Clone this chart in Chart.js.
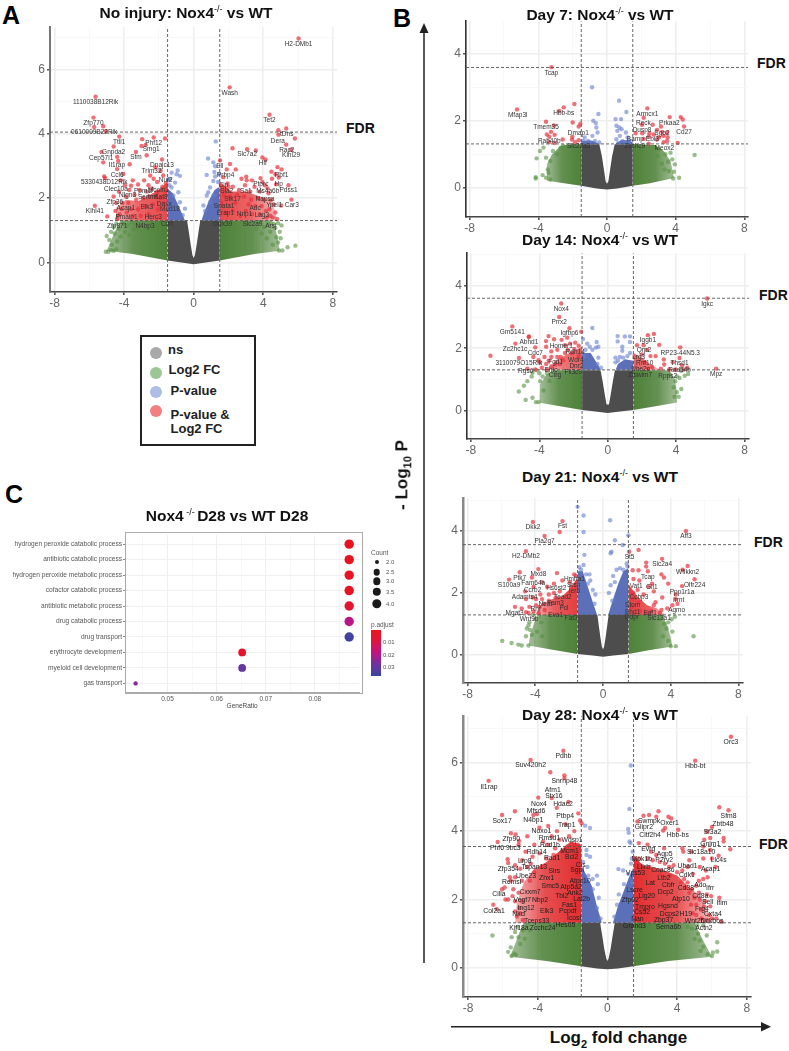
<!DOCTYPE html>
<html>
<head>
<meta charset="utf-8">
<script src="https://cdn.jsdelivr.net/npm/chart.js@4/dist/chart.umd.min.js"></script>
<style>
html,body{margin:0;padding:0;background:#fff;}
body{position:relative;width:789px;height:1051px;overflow:hidden;font-family:"Liberation Sans",Arial,sans-serif;}
canvas{position:absolute;filter:blur(0.35px);}
.t{position:absolute;white-space:nowrap;color:#111;}
.title{font-weight:bold;font-size:15.5px;transform:translate(-50%,-50%);}
.title sup{font-size:9px;font-weight:normal;line-height:0;vertical-align:6px;}
.fdr{font-weight:bold;font-size:14px;transform:translateY(-50%);}
.letter{font-weight:bold;font-size:25px;transform:translateY(-50%);color:#000;}
.leg{font-weight:bold;font-size:13px;color:#222;transform:translateY(-50%);}
.dot{position:absolute;border-radius:50%;transform:translate(-50%,-50%);}
.small{font-size:6px;color:#555;transform:translateY(-50%);}
</style>
</head>
<body>
<svg width="789" height="1051" style="position:absolute;left:0;top:0">
<line x1="424" y1="963" x2="424" y2="32" stroke="#222" stroke-width="1.5"/>
<polygon points="424,23 419.5,33 428.5,33" fill="#222"/>
<line x1="451" y1="1026.7" x2="762" y2="1026.7" stroke="#222" stroke-width="1.5"/>
<polygon points="771,1026.7 761,1022 761,1031.4" fill="#222"/>
</svg>
<script>
const xTickVals = [-8,-4,0,4,8];

// ---- No injury
const redA = [6.03,6.96,2.07,5.44,-5.64,5.15,-5.76,4.5,-5.72,4.21,-5.2,4.23,-5.05,4.08,4.36,4.59,5.32,4.16,4.87,4.11,4.87,3.97,5.82,3.85,5.32,3.66,5.6,3.5,-4.28,3.91,-2.96,3.83,-2.3,3.88,-1.65,3.85,-3.0,3.62,-2.76,3.65,-4.6,3.6,-5.3,3.43,-3.32,3.43,-2.7,3.33,-4.4,3.28,-5.2,3.11,-4.34,3.15,-3.68,3.05,-1.82,3.2,2.23,3.55,3.07,3.52,3.57,3.48,3.95,3.26,4.13,3.2,1.52,3.17,2.09,3.06,2.42,2.89,1.9,2.89,4.82,2.96,5.05,2.89,4.47,2.82,4.7,2.74,4.89,2.64,3.84,2.62,3.02,2.66,3.05,2.55,5.45,2.4,4.74,2.43,5.62,1.95,5.03,1.77,-5.68,1.76,-4.97,1.43,-5.14,2.67,-5.1,2.62,-4.4,2.9,-4.2,2.55,-3.95,2.4,-3.6,2.38,-3.2,2.42,-2.85,2.55,-2.5,2.7,-2.3,2.6,-2.1,2.5,-1.9,2.85,-1.75,2.7,-2.2,2.95,-4.6,2.05,-4.45,1.85,-4.3,2.2,-4.15,1.65,-4.35,1.45,-4.4,1.35,-3.9,2.05,-3.7,2.25,-3.4,2.1,-3.1,2.25,-2.7,2.2,-2.4,2.3,-2.1,2.2,-1.8,2.35,-1.6,2.2,-3.75,1.85,-3.3,1.95,-2.9,2.0,-2.55,2.05,-2.2,2.05,-1.9,2.0,1.7,2.65,1.95,2.45,2.25,2.35,2.6,2.25,2.95,2.4,3.25,2.2,3.5,2.35,3.8,2.2,4.1,2.4,4.3,2.15,1.75,2.1,2.1,2.05,2.5,2.1,2.9,2.05,3.3,1.95,3.7,2.0,4.05,1.95,4.45,1.95,4.6,1.8,1.6,1.85,2.4,1.85,3.15,1.8,3.9,1.75,4.35,1.65,4.7,1.55,4.55,1.4,4.8,1.35,4.2,1.4,-4.5,1.6,-4.25,1.5,-4.1,1.85,-3.85,1.55,-3.6,1.65,-3.5,1.45,-3.2,1.65,-3.05,1.45,-2.8,1.75,-2.6,1.5,-2.35,1.8,-2.05,1.65,-1.75,1.85,-1.6,2.45,-2.6,2.4,-3.5,2.55,-4.05,2.75,3.0,1.6,3.35,1.5,3.55,1.75,3.8,1.5,4.15,1.6,4.4,1.45,2.7,1.45,2.25,1.6,1.85,1.55,2.0,2.35,2.75,2.6,3.35,2.55,3.95,2.5,4.25,2.3,4.5,2.6];
const blueA = [1.27,3.76,0.83,3.23,1.13,3.11,1.23,2.99,1.19,2.81,0.75,2.72,1.23,2.67,1.13,2.53,0.94,2.33,0.84,2.18,0.75,2.08,1.13,2.08,0.94,1.87,0.56,1.77,0.66,1.6,-0.92,2.86,-1.27,2.79,-0.79,2.69,-0.98,2.74,-1.36,2.59,-1.07,2.48,-1.27,2.33,-0.88,2.18,-1.17,2.08,-0.79,1.87,-0.5,1.67,-0.63,1.47,-1.45,2.55,-1.4,2.4,1.4,2.5,1.45,2.75];
const greenA = [-5.0,0.82,-4.85,0.7,-4.7,0.55,-4.55,0.9,-4.4,0.65,-4.3,1.05,-4.2,0.8,-4.05,1.2,-3.95,0.95,-3.8,1.15,-3.7,0.85,-3.55,1.25,-3.45,1.05,-4.75,0.38,-4.6,0.36,-4.45,0.42,-4.9,0.33,-5.05,0.33,-3.3,1.2,-4.6,1.1,-4.45,1.2,-4.75,0.95,5.85,0.52,5.4,0.47,5.1,0.37,4.9,0.37,4.85,0.62,4.95,0.95,4.7,1.08,4.75,0.78,4.55,0.55,4.6,1.2,4.4,0.95,4.3,1.2,4.2,0.75,4.05,1.1,3.9,0.9,3.75,1.25,3.6,1.05,5.05,1.15,4.85,1.22,5.0,0.75];
const grayTopA = [-1.5,1.3,-0.38,1.3,-0.28,0.95,-0.17,0.55,-0.07,0.22,0,0.14,0.07,0.22,0.17,0.55,0.28,0.95,0.38,1.3,1.5,1.3];
const grayBaseA = [-1.5,0.06,-0.6,-0.01,0,-0.06,0.6,-0.01,1.5,0.06];
const greenLeftTopA = [-5.0,0.36,-4.7,0.75,-4.4,1.1,-4.2,1.3,-1.5,1.3];
const greenLeftBaseA = [-5.0,0.36,-3.5,0.26,-2.5,0.16,-1.5,0.06];
const greenRightTopA = [1.5,1.3,4.5,1.3,4.7,1.05,4.85,0.7,4.95,0.36];
const greenRightBaseA = [1.5,0.06,2.5,0.16,3.5,0.26,4.95,0.36];
const redLeftA = [-4.5,1.3,-4.45,1.7,-3.9,1.95,-3.2,1.9,-2.5,2.1,-1.9,2.3,-1.5,2.5];
const redRightA = [1.5,2.5,2.2,2.2,3.0,2.2,3.8,2.05,4.5,1.95,4.8,1.3];
const blueLeftA = [-1.5,2.3,-1.2,2.15,-0.9,1.8,-0.7,1.55,-0.5,1.3];
const blueRightA = [0.45,1.3,0.6,1.55,0.9,1.95,1.2,2.25,1.5,2.35];
const labelsA = [['H2-DMb1',6.03,6.78],['Wash',2.07,5.25],['1110038B12Rik',-5.64,4.97],['Zfp770',-5.76,4.32],['0610009B22Rik',-5.72,4.05],['Tet2',4.36,4.41],['tDns',5.35,3.98],['Dera',4.84,3.78],['Rac2',5.35,3.49],['Klhl29',5.6,3.32],['Ttll1',-4.28,3.74],['Phf12',-2.3,3.7],['Smg1',-2.44,3.52],['Gnpda2',-4.6,3.43],['Stm',-3.32,3.26],['Cep57l1',-5.32,3.24],['Slc7a2',3.07,3.35],['Hlf',3.97,3.07],['Il1rap',-4.41,3.01],['Dnajc13',-1.82,3.01],['Trim32',-2.42,2.83],['Ell',1.5,2.98],['Prbp4',1.84,2.7],['Rbf1',5.05,2.71],['Ccl6',-4.4,2.7],['5330438D12Rik',-5.14,2.48],['Nuf2',-1.61,2.54],['Clec10a',-4.47,2.28],['Ppm1l',-2.9,2.22],['Mcoln1',-2.03,2.25],['Ptprc',3.86,2.44],['Hp',4.89,2.44],['Pdss1',5.45,2.23],['Cip',1.71,2.39],['Sla2',1.9,2.21],['Ms4a6b',4.26,2.21],['Sa1',3.0,2.21],['Nlgn3',-3.8,2.1],['Sertm1',-2.6,2.03],['Kat8',-1.88,2.03],['Stk17',2.23,1.97],['Napsa',4.1,1.97],['Zfp36',-4.53,1.87],['Daxx',-1.69,1.81],['Ypel1',4.63,1.77],['Car3',5.64,1.77],['Acap1',-3.9,1.69],['Elk3',-2.7,1.72],['Med18',-1.36,1.65],['Spata1',1.75,1.75],['Adc',3.53,1.67],['Klhl41',-5.68,1.59],['Erap1',1.82,1.52],['Nrip1',2.92,1.49],['Lag3',3.92,1.47],['Pmaip1',-3.86,1.41],['Herc3',-2.32,1.41],['Ddx39',1.67,1.19],['Slc2a9',3.38,1.19],['Arsj',4.43,1.14],['Zfp871',-4.4,1.14],['N4bp3',-2.8,1.12],['Cdh',-1.54,1.2]];

// ---- Day 7
const red7 = [-3.24,3.6,-5.24,2.34,-2.52,2.4,-1.9,2.5,-2.78,2.29,-2.0,1.95,-3.55,1.97,-1.55,1.91,-1.65,1.83,-3.09,1.86,-3.26,1.67,-3.5,1.59,-3.05,1.58,-3.36,1.52,-2.02,1.52,-2.58,1.44,-2.04,1.44,-1.65,1.42,-1.86,1.36,-3.38,1.36,-3.05,1.34,2.35,2.37,3.65,2.11,4.29,2.11,4.41,2.04,2.14,2.09,4.49,1.83,2.66,1.88,2.04,1.88,3.15,1.83,2.91,1.73,3.22,1.67,3.5,1.65,2.47,1.63,2.05,1.63,1.67,1.63,2.72,1.59,3.3,1.55,3.53,1.51,2.43,1.53,3.03,1.51,2.14,1.46,2.91,1.44,3.5,1.4,3.3,1.36,4.12,1.34,2.43,1.32];
const blue7 = [-0.87,3.0,0.7,2.6,-0.5,2.2,1.13,2.26,0.5,2.05,0.82,2.05,-0.8,2.0,-0.65,1.93,-0.55,1.65,-0.62,1.8,-0.85,1.55,-1.3,1.5,-1.1,1.4,-0.95,1.33,-0.7,1.4,-0.45,1.35,0.55,1.85,0.72,1.8,0.6,1.7,0.85,1.75,1.1,1.65,1.2,1.5,0.75,1.55,0.55,1.45,0.9,1.4,1.3,1.4,0.65,1.33,1.05,1.35,-1.4,1.4];
const green7 = [-4.1,0.88,-3.9,1.1,-3.7,1.2,-3.55,0.9,-3.45,0.55,-3.3,0.8,-3.15,1.1,-2.9,1.0,-2.7,1.2,-3.3,0.25,-4.15,0.32,-4.15,0.28,-3.75,0.38,-3.55,0.3,-3.4,0.45,-2.55,1.25,5.1,0.98,4.2,0.3,3.85,0.28,3.9,0.48,3.8,0.85,3.55,0.78,3.4,1.0,3.2,0.72,3.0,1.15,3.6,0.5,3.35,0.55,2.95,0.95,2.8,1.22,3.7,1.05,3.95,0.7];
const grayTop7 = [-1.5,1.3,-0.45,1.3,-0.3,0.95,-0.18,0.55,-0.08,0.2,0,0.12,0.08,0.2,0.18,0.55,0.3,0.95,0.45,1.3,1.5,1.3];
const grayBase7 = [-1.5,0.06,-0.6,-0.02,0,-0.05,0.6,-0.02,1.5,0.06];
const greenLeftTop7 = [-3.55,0.22,-3.5,0.7,-3.2,1.0,-2.7,1.25,-2.2,1.3,-1.5,1.3];
const greenLeftBase7 = [-3.55,0.22,-2.5,0.14,-1.5,0.06];
const greenRightTop7 = [1.5,1.3,2.8,1.28,3.3,1.1,3.7,0.8,3.9,0.29];
const greenRightBase7 = [1.5,0.06,2.5,0.14,3.9,0.29];
const blueLeft7 = [-1.5,1.4,-1.0,1.42,-0.7,1.38,-0.5,1.3];
const blueRight7 = [0.48,1.3,0.8,1.42,1.2,1.42,1.5,1.36];
const labels7 = [['Tcap',-3.24,3.43],['Mfap3l',-5.2,2.17],['Hbb-bs',-2.52,2.23],['Armcx1',2.35,2.19],['Reck',2.12,1.93],['Prkaa2',3.63,1.93],['Tmem35',-3.55,1.8],['Dusp8',2.04,1.71],['Dmap1',-1.67,1.64],['Sgo2',3.2,1.62],['Cd27',4.49,1.65],['Rab40b',-3.36,1.38],['Ebi3',2.64,1.44],['Bamp',1.65,1.45],['Slc22a3',-1.65,1.23],['Zcchc9',1.61,1.25],['Meox2',3.34,1.18]];

// ---- Day 14
const red14 = [5.81,3.59,-2.72,3.43,-2.84,3.0,-5.58,2.7,-2.24,2.64,-1.55,2.53,2.7,2.46,2.35,2.42,-3.46,2.39,-4.61,2.38,-4.62,2.36,-2.37,2.34,-3.14,2.29,-2.7,2.27,-3.61,2.23,-5.4,2.15,3.01,2.11,1.71,2.1,4.24,2.03,-4.24,2.03,-6.86,1.76,-5.19,1.69,6.34,1.35,4.2,1.69,3.28,1.64,3.8,1.55,4.65,1.38,4.35,1.45,4.45,1.32,2.1,2.1,2.3,1.95,2.0,1.8,2.5,1.75,2.8,1.75,3.3,1.48,3.1,1.35,3.6,1.32,3.95,1.32,2.15,1.55,2.6,1.4,2.35,1.35,-3.6,2.05,-3.3,1.9,-2.95,1.95,-2.5,2.1,-2.2,2.15,-1.9,2.18,-1.7,2.08,-2.35,1.95,-1.95,1.98,-4.35,1.72,-4.05,1.62,-3.95,1.55,-3.6,1.5,-3.3,1.72,-2.95,1.72,-2.75,1.72,-3.85,1.38,-4.25,1.32,-4.7,1.35,-3.55,1.32,-3.3,1.42,-3.05,1.48,-2.8,1.5,-2.5,1.85,-2.1,1.85,-1.7,1.75,-3.45,1.6,-2.6,1.62,-3.7,1.72];
const blue14 = [-0.9,2.65,-1.45,2.3,-1.2,2.15,-0.65,2.2,-1.05,2.05,-0.9,1.95,-0.7,2.02,-0.55,2.05,-1.3,1.95,0.58,2.39,1.0,2.38,1.3,2.38,0.58,2.22,1.3,2.2,0.85,2.05,0.85,1.92,0.9,1.7,1.15,1.75,0.45,1.7,0.7,1.72,1.3,1.85,0.45,1.55,0.6,1.6,-1.4,1.75,-0.55,1.7,-0.6,1.5,-0.4,1.38];
const green14 = [-5.2,0.62,-4.9,0.8,-4.8,0.35,-4.7,0.95,-4.45,1.1,-4.4,0.42,-4.2,0.28,-4.15,1.3,-4.0,1.2,-3.95,0.95,-4.05,0.28,-3.8,1.1,-3.75,0.65,-3.55,1.2,-3.4,0.95,-4.4,1.22,4.3,0.7,4.15,0.45,4.05,0.6,4.7,1.18,4.5,1.12,4.3,1.28,4.05,1.1,3.95,0.95,3.85,0.75,3.6,1.15,3.9,0.45,4.2,1.05];
const grayTop14 = [-1.5,1.3,-0.42,1.3,-0.3,0.95,-0.18,0.55,-0.07,0.2,0,0.2,0.07,0.2,0.18,0.55,0.3,0.95,0.42,1.3,1.5,1.3];
const grayBase14 = [-1.5,0.03,-0.6,-0.03,0,-0.07,0.6,-0.03,1.5,0.03];
const greenLeftTop14 = [-4.0,0.26,-3.95,0.85,-3.6,1.15,-3.2,1.3,-1.5,1.3];
const greenLeftBase14 = [-4.0,0.26,-2.7,0.14,-1.5,0.03];
const greenRightTop14 = [1.5,1.3,3.6,1.3,3.9,1.05,4.03,0.65,4.05,0.27];
const greenRightBase14 = [1.5,0.03,2.8,0.15,4.05,0.27];
const redLeft14 = [-3.5,1.3,-3.1,1.6,-2.4,1.8,-1.5,2.05];
const redRight14 = [1.5,1.85,2.0,1.7,2.6,1.45,3.1,1.3];
const blueLeft14 = [-1.5,1.85,-1.0,1.85,-0.6,1.5,-0.4,1.3];
const blueRight14 = [0.45,1.3,0.6,1.5,1.0,1.65,1.5,1.6];
const labels14 = [['Igkc',5.81,3.41],['Nox4',-2.72,3.25],['Prrx2',-2.84,2.83],['Gm5141',-5.58,2.52],['Igfbp6',-2.24,2.47],['Abhd1',-4.61,2.21],['Iggb1',2.35,2.25],['Homer1',-2.72,2.08],['Zc2hc1c',-5.42,1.96],['Qrp2',2.12,1.95],['Cdc7',-4.24,1.85],['Rdh14',-1.9,1.87],['RP23-44N5.3',4.24,1.85],['Lrg3',1.81,1.72],['Wdr4',-1.87,1.63],['3110079O15Rik',-5.21,1.51],['Fgd1',-3.05,1.54],['Thsd1',4.2,1.52],['Rnf10',2.16,1.53],['Dnr2',-1.83,1.44],['Rad54b',4.2,1.3],['Rgs6',-4.8,1.28],['Ehfc',-3.32,1.31],['Ube2c',1.92,1.34],['Fli3c9',-2.02,1.22],['Mpz',6.34,1.17],['Ctrg',-3.09,1.13],['Ziswim7',1.9,1.13],['Rpps2',3.5,1.1]];

// ---- Day 21
const red21 = [-2.39,4.32,-4.14,4.29,4.9,4.0,-2.56,3.97,-3.45,3.84,-4.55,3.35,1.55,3.33,2.1,3.39,3.49,3.1,5.0,2.87,-3.82,2.77,-4.92,2.67,-2.72,2.64,-5.55,2.43,4.7,2.75,5.41,2.44,4.67,2.22,3.45,2.6,3.6,2.5,2.55,2.98,2.55,2.85,2.65,2.7,3.85,2.3,2.1,2.73,1.75,2.73,1.8,2.45,2.15,2.4,2.9,2.3,2.7,2.2,2.05,2.1,3.0,2.05,2.4,1.95,1.8,2.0,4.3,1.95,4.3,1.8,4.1,1.6,4.4,1.65,3.5,1.85,3.1,1.7,3.0,1.6,2.1,1.7,1.8,1.8,3.8,1.5,3.45,1.45,3.35,1.35,2.85,1.42,2.6,1.35,2.2,1.42,1.7,1.55,-4.2,2.5,-3.6,2.35,-4.1,2.2,-4.6,2.05,-3.3,2.2,-2.9,2.3,-2.4,2.4,-1.95,2.35,-1.7,2.6,-1.6,2.55,-1.9,2.2,-2.55,2.05,-2.9,2.0,-3.2,1.95,-3.7,1.95,-4.15,1.85,-4.55,1.8,-3.6,1.8,-3.95,1.6,-3.75,1.55,-4.1,1.4,-4.55,1.38,-5.2,1.55,-4.8,1.5,-4.4,1.35,-3.5,1.65,-3.2,1.75,-2.8,1.85,-3.95,1.8,-4.35,1.55,-3.8,1.35,-3.45,1.45];
const blue21 = [-1.5,4.78,-1.15,4.5,-1.15,3.97,0.42,4.35,1.5,3.86,0.7,3.7,1.17,3.55,0.5,3.33,0.45,3.28,-1.1,3.23,-1.4,2.83,-1.15,2.9,-0.8,2.6,-0.75,2.4,-0.6,2.1,-0.45,1.95,-1.0,2.6,-1.3,2.75,0.8,2.75,1.0,2.8,1.2,2.75,1.45,2.85,0.6,2.55,0.7,2.35,0.35,2.0,0.45,2.25,1.4,2.95,-0.5,1.65,-0.9,2.3,0.55,1.75];
const green21 = [-5.95,0.45,-5.4,0.38,-5.0,0.33,-4.8,0.3,-4.5,0.85,-4.4,0.95,-4.35,1.05,-4.15,1.3,-4.0,1.15,-3.9,0.75,-4.2,0.65,-3.8,1.25,-3.65,1.05,-4.4,0.3,-3.6,0.6,-4.55,0.6,-4.3,0.8,5.35,0.6,4.3,0.28,4.0,0.28,3.85,0.45,3.75,0.85,3.6,1.0,3.5,1.25,4.25,1.23,4.05,1.15,3.85,1.05,3.55,0.6,3.35,1.15,4.1,0.75];
const grayTop21 = [-1.5,1.29,-0.33,1.29,-0.25,0.95,-0.15,0.55,-0.06,0.25,0,0.18,0.06,0.25,0.15,0.55,0.25,0.95,0.33,1.29,1.5,1.29];
const grayBase21 = [-1.5,0.03,-0.6,-0.02,0,-0.06,0.6,-0.02,1.5,0.03];
const greenLeftTop21 = [-4.4,0.3,-4.3,0.65,-4.05,1.05,-3.7,1.29,-1.5,1.29];
const greenLeftBase21 = [-4.4,0.3,-2.9,0.16,-1.5,0.03];
const greenRightTop21 = [1.5,1.29,3.5,1.29,3.8,0.95,4.0,0.55,4.1,0.27];
const greenRightBase21 = [1.5,0.03,2.7,0.15,4.1,0.27];
const redLeft21 = [-4.0,1.29,-3.7,1.6,-3.0,1.8,-2.4,1.9,-2.0,2.1,-1.5,2.5];
const redRight21 = [1.5,2.3,2.0,1.9,2.6,1.6,3.2,1.5,3.7,1.29];
const blueLeft21 = [-1.5,2.7,-1.2,2.7,-0.9,2.2,-0.6,1.7,-0.35,1.29];
const blueRight21 = [0.3,1.29,0.6,1.8,0.9,2.3,1.2,2.7,1.5,2.8];
const labels21 = [['Fst',-2.39,4.15],['Dkk2',-4.14,4.12],['Aff3',4.9,3.84],['Pla2g7',-3.45,3.66],['H2-DMb2',-4.55,3.18],['St5',1.57,3.14],['Slc2a4',3.49,2.92],['Wfikkn2',5.0,2.68],['Mxd8',-3.82,2.59],['Ptk7',-4.92,2.49],['Tcap',2.65,2.52],['Hmha1',-1.69,2.44],['Fam64a',-4.12,2.31],['S100a9',-5.55,2.25],['Srsn',-1.73,2.25],['Olfr224',5.41,2.26],['Vat1',1.96,2.22],['Gli1',2.88,2.19],['Hs6st2',-2.76,2.16],['Ccrb2',-4.16,2.09],['Ier5',-1.69,2.07],['Ppp1r1a',4.67,2.03],['Adamts4',-4.63,1.85],['Tead2',-2.37,1.86],['Ccbp3',2.12,1.85],['Irmt',4.47,1.76],['Neat',-3.4,1.65],['Fam3',-2.8,1.67],['Stom',1.75,1.61],['Rnf',-3.98,1.47],['Pcl',-2.31,1.5],['Agmo',4.35,1.45],['Ehd1',1.75,1.39],['Eaf1',2.78,1.36],['Mgat3',-5.22,1.35],['Eva1',-2.8,1.29],['Fat3',-1.88,1.19],['Qdpr',1.7,1.21],['Slc13a1',3.31,1.18],['Wnt9b',-4.37,1.14]];

// ---- Day 28
const red28 = [7.09,6.76,-2.53,6.35,-4.41,6.08,5.04,6.06,-6.82,5.47,-3.28,5.72,-2.47,5.63,-2.47,5.55,-3.97,4.98,-3.2,4.97,-2.24,4.85,6.95,4.61,6.42,4.7,-5.31,4.58,-6.05,4.47,-2.91,4.68,-4.05,4.5,-4.25,4.47,-1.67,4.52,2.93,4.58,2.07,4.45,2.39,4.47,3.5,4.42,3.66,4.37,1.72,4.28,2.8,4.42,-1.57,4.31,-1.48,4.23,4.06,4.04,3.31,4.09,3.2,4.02,5.56,3.75,5.71,3.99,6.0,4.12,6.67,3.8,6.67,3.7,7.05,3.47,6.38,3.28,5.9,3.8,-5.54,3.94,-5.27,3.9,-6.3,3.68,-5.08,3.71,-5.1,3.6,-5.73,3.18,-5.7,3.07,-4.6,3.85,-4.2,3.6,-3.9,4.1,-3.4,4.15,-2.9,4.0,-2.4,4.2,-1.9,4.0,-3.7,3.7,-3.0,3.5,-2.3,3.55,-1.7,3.6,-4.7,3.4,-4.3,3.25,-3.9,3.35,-3.5,3.2,-3.1,3.3,-2.6,3.4,-1.65,3.3,-5.3,3.0,-5.0,2.9,-4.6,2.95,-4.2,2.8,-3.75,2.95,-5.6,2.65,-5.3,2.65,-4.9,2.55,-5.9,2.35,-6.05,2.3,-5.85,2.0,-5.7,2.0,-5.4,2.3,-5.1,2.2,-4.9,1.95,-6.55,1.85,-6.35,1.72,-5.3,1.65,-5.2,1.5,-5.05,1.75,-4.85,1.4,-5.3,1.95,-5.55,2.55,2.3,3.6,1.8,3.65,2.5,3.4,3.25,3.5,4.3,3.5,4.35,3.4,5.5,3.55,4.7,3.15,4.8,3.4,5.9,3.45,6.0,3.2,5.5,3.2,5.3,2.95,5.65,2.85,5.75,2.65,5.5,2.6,6.2,2.95,5.25,2.55,4.6,2.95,4.3,2.85,3.8,3.0,3.3,3.05,2.8,3.3,2.3,3.2,1.9,3.0,4.0,2.8,3.6,2.7,4.9,2.75,5.1,2.4,4.85,2.3,4.6,2.5,4.2,2.5,5.7,2.15,5.95,2.1,5.6,1.95,5.3,2.0,6.42,2.05,5.0,2.05,4.8,1.85,5.4,1.7,5.85,1.55,5.7,1.4,6.25,1.45,5.4,1.45,5.1,1.55,4.9,1.6,6.55,1.35,3.05,2.75,2.4,2.95,1.8,3.2,-4.4,3.05,-3.4,3.6,-2.75,3.75,-2.2,3.85,-4.9,3.15,-4.45,2.55,-5.0,1.6,-5.45,2.1,-3.2,3.85,-1.9,3.45,3.55,2.95,3.0,3.1,2.6,3.15,4.4,2.6,4.7,2.2,5.25,2.2,5.55,1.8,5.1,1.85,5.9,1.8,6.0,1.45,4.5,2.35];
const blue28 = [1.34,5.92,1.26,4.65,1.19,4.06,1.22,3.95,1.27,3.7,1.33,3.65,-1.28,4.16,-1.0,4.09,-1.2,3.45,-1.2,3.3,-1.0,3.25,-1.4,3.1,-1.15,2.95,-1.1,2.7,-0.85,2.6,-0.6,2.7,-0.55,2.45,-0.85,2.3,-0.5,2.05,-0.6,1.75,-0.4,1.45,1.45,3.4,1.4,3.2,1.35,3.05,0.63,2.89,0.9,2.85,1.2,2.75,1.4,2.5,0.95,2.45,0.65,2.15,0.55,1.85,0.4,1.5,1.15,2.3];
const green28 = [-6.6,0.95,-5.7,0.47,-5.55,0.6,-5.35,0.42,-5.25,0.38,-5.3,1.05,-5.15,1.2,-5.1,0.9,-5.0,0.7,-4.85,1.1,-4.75,0.85,-4.6,1.25,-4.45,1.1,-5.5,0.35,-5.5,0.9,6.3,0.75,6.3,0.48,6.05,0.45,5.75,0.4,5.5,0.62,5.3,0.8,5.2,1.0,5.5,1.25,5.15,1.25,5.0,0.85,4.85,1.15,4.6,1.2,5.35,0.5,6.0,0.35,5.7,0.95];
const grayTop28 = [-1.5,1.32,-0.42,1.32,-0.3,0.95,-0.18,0.55,-0.07,0.28,0,0.2,0.07,0.28,0.18,0.55,0.3,0.95,0.42,1.32,1.5,1.32];
const grayBase28 = [-1.5,0.05,-0.6,-0.02,0,-0.04,0.6,-0.02,1.5,0.05];
const greenLeftTop28 = [-5.6,0.33,-5.3,0.7,-5.0,1.1,-4.8,1.32,-1.5,1.32];
const greenLeftBase28 = [-5.6,0.33,-3.5,0.2,-1.5,0.05];
const greenRightTop28 = [1.5,1.32,5.0,1.32,5.3,1.0,5.6,0.7,6.0,0.33];
const greenRightBase28 = [1.5,0.05,3.5,0.2,6.0,0.33];
const redLeft28 = [-5.3,1.32,-5.2,1.9,-4.8,2.5,-4.2,2.9,-3.5,3.1,-2.8,3.4,-2.1,3.7,-1.5,3.6];
const redRight28 = [1.5,3.3,2.0,3.0,3.0,2.9,4.0,2.7,4.6,2.4,5.3,2.1,5.8,1.6,6.0,1.32];
const blueLeft28 = [-1.5,3.0,-1.2,2.7,-0.9,2.4,-0.6,1.8,-0.32,1.32];
const blueRight28 = [0.32,1.32,0.6,1.8,0.9,2.2,1.2,2.6,1.5,2.95];
const labels28 = [['Orc3',7.09,6.61],['Pdhb',-2.53,6.18],['Suv420h2',-4.41,5.92],['Hbb-bt',5.04,5.9],['Il1rap',-6.8,5.3],['Snrnp48',-2.47,5.45],['Afm1',-3.14,5.19],['Stx16',-3.07,5.02],['Nox4',-3.93,4.8],['Hdac2',-2.55,4.79],['Mfsd6',-4.1,4.58],['Ptbp4',-2.43,4.44],['Sfm8',6.95,4.44],['N4bp1',-4.25,4.32],['Sox17',-6.05,4.3],['Swmpk',2.39,4.29],['Oxer1',3.56,4.24],['Zbtb48',6.63,4.2],['Trap1',-2.34,4.19],['Glipr2',2.09,4.11],['Noxo1',-3.79,3.99],['Sf3a2',6.02,3.96],['Cltf2h4',2.45,3.89],['Hbb-bs',4.04,3.87],['Rmsd1',-3.33,3.8],['Zfp90',-5.52,3.78],['Wdsp1',-2.03,3.73],['Rcd1b',-3.3,3.59],['Gnlm1',5.9,3.61],['Phf6 9bc3',-5.86,3.5],['Mcm1',-2.18,3.42],['Evrg',2.34,3.46],['Slc18a10',5.38,3.4],['Rdh14',-4.06,3.39],['Agp5',3.28,3.32],['Rad1',-3.18,3.2],['Bcl2',-2.05,3.23],['Mok1b',1.97,3.17],['P2ry2',3.26,3.15],['Lrp8',-4.75,3.12],['Llc4s',6.38,3.14],['Cls',-1.53,3.02],['Tspan13',-4.2,2.96],['Ubad1',4.6,2.98],['Lilrb',2.07,2.96],['Acap1',5.92,2.9],['Zfp354',-5.69,2.88],['Coac86',3.18,2.85],['Sirs',-3.05,2.82],['Sgpl',-1.74,2.85],['Vps53',1.61,2.77],['Cdk1',4.56,2.71],['Ube23',-4.67,2.69],['Zhx1',-3.49,2.63],['Ltb2',3.24,2.63],['Atpc10',-1.57,2.53],['Remsl',-5.5,2.5],['Lat',2.45,2.47],['Smc5',-3.28,2.38],['Atp5a2',-2.09,2.36],['Ifrr',5.9,2.34],['Ado',5.33,2.42],['Cd38',4.5,2.33],['Cbfr',3.5,2.42],['Lscre',1.55,2.27],['Cxxm7',-4.44,2.23],['Dcp2',3.35,2.23],['Ank2',-1.86,2.2],['Tbl2',-2.62,2.1],['Lig20',2.26,2.11],['Cilia',-6.23,2.15],['Cd8a',5.33,2.1],['Atp10',4.21,2.02],['Lat2b',-1.48,2.02],['Nbp2',-3.87,1.97],['Vegf7',-4.89,1.97],['Zfp02',1.3,1.97],['Sell',5.75,1.91],['Ifim',6.57,1.89],['Frg4',5.42,1.73],['Hgsnd',3.47,1.81],['Tmpro',2.15,1.78],['Ing12',-4.67,1.75],['Fas1',-2.18,1.83],['Cxta4',6.05,1.56],['Elk3',-3.49,1.65],['Pcpdf',-2.28,1.65],['Col2a1',-6.51,1.67],['Nkcl',-5.08,1.58],['H19',4.5,1.56],['Dcps2',3.56,1.58],['Cs52',1.99,1.62],['Icosl',-1.92,1.47],['Nan',1.72,1.43],['Zbp37',3.22,1.39],['Wnt2b',5.0,1.38],['Dckbos',6.0,1.37],['Tceps33',-4.06,1.37],['Hes05',-2.41,1.24],['Grand3',1.55,1.23],['Sema6b',3.5,1.2],['Actn2',5.54,1.17],['Kif18a',-5.08,1.15],['Zcchc24',-3.72,1.17]];

// ---- panel C
const goTerms = ['hydrogen peroxide catabolic process','antibiotic catabolic process','hydrogen peroxide metabolic process','cofactor catabolic process','antibiotic metabolic process','drug catabolic process','drug transport','erythrocyte development','myeloid cell development','gas transport'];
const geneRatio = [0.087,0.087,0.087,0.087,0.087,0.087,0.087,0.0652,0.0652,0.0435];
const goCount = [4,4,4,4,4,4,4,3,3,2];
const goPadj = [0.001,0.001,0.002,0.002,0.006,0.021,0.038,0.005,0.032,0.027];
const countLegend = [2.0,2.5,3.0,3.5,4.0];
const padjLegend = [0.01,0.02,0.03];

function pts(flat) {
    const out = [];
    for (let i = 0; i < flat.length; i += 2) {
        out.push({x: flat[i], y: flat[i + 1]});
    }
    return out;
}

function addText(cls, html, x, y, extra) {
    const d = document.createElement('div');
    d.className = 't ' + cls;
    d.innerHTML = html;
    d.style.left = x + 'px';
    d.style.top = y + 'px';
    if (extra) d.style.cssText += extra;
    document.body.appendChild(d);
    return d;
}

const geneLabels = {
    id: 'geneLabels',
    afterDatasetsDraw(chart, args, opts) {
        const c = chart.ctx;
        c.save();
        c.font = opts.font;
        c.fillStyle = opts.color;
        c.textAlign = 'center';
        c.textBaseline = 'middle';
        opts.items.forEach(l => {
            c.fillText(l[0], chart.scales.x.getPixelForValue(l[1]), chart.scales.y.getPixelForValue(l[2]));
        });
        c.restore();
    }
};

function lineSet(a, b) {
    return {data: [a, b], showLine: true, borderColor: '#555', borderWidth: 0.9, borderDash: [3, 2], pointRadius: 0};
}

function dots(flat, color) {
    return {data: pts(flat), backgroundColor: color, borderWidth: 0, pointRadius: 2.2};
}

function band(flat, fill, color) {
    return {data: pts(flat), showLine: true, fill, backgroundColor: color, borderWidth: 0, borderColor: 'transparent', pointRadius: 0};
}

function volcano(p) {
    const sideW = 26, footH = 22, pad = 4;
    const el = document.createElement('canvas');
    el.width = p.right - p.left + sideW + pad;
    el.height = p.bottom - p.top + footH + pad;
    el.style.left = (p.left - sideW) + 'px';
    el.style.top = (p.top - pad) + 'px';
    document.body.appendChild(el);

    // clouds fade out as they get sparser away from the centre
    const ctx = el.getContext('2d');
    const toPx = v => sideW + (v - p.xMin) / (p.xMax - p.xMin) * (p.right - p.left);
    const fade = (flat, rgb, a0, a1) => {
        const xs = flat.filter((v, i) => i % 2 === 0);
        const inner = Math.abs(xs[0]) < Math.abs(xs[xs.length - 1]) ? xs[0] : xs[xs.length - 1];
        const outer = inner === xs[0] ? xs[xs.length - 1] : xs[0];
        const g = ctx.createLinearGradient(toPx(inner), 0, toPx(outer), 0);
        g.addColorStop(0, 'rgba(' + rgb + ',' + a0 + ')');
        g.addColorStop(0.55, 'rgba(' + rgb + ',' + (a0 * 0.75 + a1 * 0.25) + ')');
        g.addColorStop(1, 'rgba(' + rgb + ',' + a1 + ')');
        return g;
    };

    const red = 'rgba(232,50,60,0.7)', blue = 'rgba(100,125,205,0.6)', green = 'rgba(85,145,65,0.6)';
    const redRgb = '224,28,30', greenRgb = '72,125,50';
    const fillBlue = 'rgba(78,100,180,0.92)', fillGray = '#4d4d4d';

    const sets = [
        lineSet({x: -1.5, y: p.yMin}, {x: -1.5, y: p.yMax}),
        lineSet({x: 1.5, y: p.yMin}, {x: 1.5, y: p.yMax}),
        lineSet({x: p.xMin, y: p.cut}, {x: p.xMax, y: p.cut}),
        lineSet({x: p.xMin, y: p.fdr}, {x: p.xMax, y: p.fdr}),
        dots(p.red, red),
        dots(p.blue, blue),
        dots(p.green, green)
    ];
    if (p.redLeft) sets.push(band(p.redLeft, {value: p.cut}, fade(p.redLeft, redRgb, p.redAlpha, 0.35)));
    if (p.redRight) sets.push(band(p.redRight, {value: p.cut}, fade(p.redRight, redRgb, p.redAlpha, 0.3)));
    sets.push(band(p.blueLeft, {value: p.cut}, fillBlue));
    sets.push(band(p.blueRight, {value: p.cut}, fillBlue));
    sets.push(band(p.greenLeftTop, '+1', fade(p.greenLeftTop, greenRgb, 0.97, 0.5)));
    sets.push(band(p.greenLeftBase, false, fillGray));
    sets.push(band(p.greenRightTop, '+1', fade(p.greenRightTop, greenRgb, 0.97, 0.5)));
    sets.push(band(p.greenRightBase, false, fillGray));
    sets.push(band(p.grayTop, '+1', fillGray));
    sets.push(band(p.grayBase, false, fillGray));

    const gridColor = (step) => (c) => (c.tick.value % step === 0 ? '#eeeeee' : '#f6f6f6');
    const gridWidth = (step) => (c) => (c.tick.value % step === 0 ? 1.6 : 0.8);
    const tickColor = (step) => (c) => (c.tick.value % step === 0 ? '#555' : 'rgba(0,0,0,0)');
    const tickFont = {family: '"Liberation Sans"', size: 12};

    new Chart(el, {
        type: 'scatter',
        data: {datasets: sets},
        options: {
            responsive: false,
            animation: false,
            layout: {padding: {top: pad, right: pad}},
            plugins: {
                legend: {display: false},
                tooltip: {enabled: false},
                geneLabels: {items: p.labels, font: p.labelFont || '6.5px "Liberation Sans"', color: p.labelColor || '#333'}
            },
            scales: {
                x: {
                    type: 'linear', min: p.xMin, max: p.xMax,
                    afterFit: s => { s.height = footH; },
                    border: {color: '#444', width: 1.5},
                    grid: {color: gridColor(4), lineWidth: gridWidth(4), tickColor: tickColor(4), tickLength: 3},
                    ticks: {stepSize: 2, autoSkip: false, maxRotation: 0, includeBounds: false, padding: 1, color: '#666', font: tickFont,
                        callback: v => (xTickVals.includes(v) ? String(v) : '')}
                },
                y: {
                    type: 'linear', min: p.yMin, max: p.yMax,
                    afterFit: s => { s.width = sideW; },
                    border: {color: p.axisColor || '#555', width: p.axisWidth || 1.6},
                    grid: {color: gridColor(2), lineWidth: gridWidth(2), tickColor: tickColor(2), tickLength: 3},
                    ticks: {stepSize: 1, autoSkip: false, includeBounds: false, padding: 2, color: '#666', font: tickFont,
                        callback: v => (v % 2 === 0 ? String(v) : '')}
                }
            }
        },
        plugins: [geneLabels]
    });
}

volcano({left: 50, right: 337, top: 22, bottom: 292, xMin: -8.26, xMax: 8.24, yMin: -0.92, yMax: 7.31, cut: 1.3, fdr: 4.05, redAlpha: 0.8,
    red: redA, blue: blueA, green: greenA, grayTop: grayTopA, grayBase: grayBaseA,
    greenLeftTop: greenLeftTopA, greenLeftBase: greenLeftBaseA, greenRightTop: greenRightTopA, greenRightBase: greenRightBaseA,
    redLeft: redLeftA, redRight: redRightA, blueLeft: blueLeftA, blueRight: blueRightA, labels: labelsA, axisColor: '#777', axisWidth: 2});
volcano({left: 466, right: 748, top: 16, bottom: 217, xMin: -8.21, xMax: 8.21, yMin: -0.87, yMax: 4.97, cut: 1.31, fdr: 3.59,
    red: red7, blue: blue7, green: green7, grayTop: grayTop7, grayBase: grayBase7,
    greenLeftTop: greenLeftTop7, greenLeftBase: greenLeftBase7, greenRightTop: greenRightTop7, greenRightBase: greenRightBase7,
    blueLeft: blueLeft7, blueRight: blueRight7, labels: labels7, axisColor: '#333'});
volcano({left: 467, right: 749, top: 248, bottom: 439, xMin: -8.23, xMax: 8.26, yMin: -0.9, yMax: 5.04, cut: 1.31, fdr: 3.6, redAlpha: 0.7,
    red: red14, blue: blue14, green: green14, grayTop: grayTop14, grayBase: grayBase14,
    greenLeftTop: greenLeftTop14, greenLeftBase: greenLeftBase14, greenRightTop: greenRightTop14, greenRightBase: greenRightBase14,
    redLeft: redLeft14, redRight: redRight14, blueLeft: blueLeft14, blueRight: blueRight14, labels: labels14, axisColor: '#333'});
volcano({left: 463, right: 743, top: 493, bottom: 683, xMin: -8.27, xMax: 8.27, yMin: -0.91, yMax: 5.06, cut: 1.29, fdr: 3.56, redAlpha: 0.85,
    red: red21, blue: blue21, green: green21, grayTop: grayTop21, grayBase: grayBase21,
    greenLeftTop: greenLeftTop21, greenLeftBase: greenLeftBase21, greenRightTop: greenRightTop21, greenRightBase: greenRightBase21,
    redLeft: redLeft21, redRight: redRight21, blueLeft: blueLeft21, blueRight: blueRight21, labels: labels21, axisColor: '#888', axisWidth: 2.5});
volcano({left: 463, right: 751, top: 711, bottom: 997, xMin: -8.29, xMax: 8.24, yMin: -0.85, yMax: 7.36, cut: 1.32, fdr: 3.55, redAlpha: 0.92,
    red: red28, blue: blue28, green: green28, grayTop: grayTop28, grayBase: grayBase28,
    greenLeftTop: greenLeftTop28, greenLeftBase: greenLeftBase28, greenRightTop: greenRightTop28, greenRightBase: greenRightBase28,
    redLeft: redLeft28, redRight: redRight28, blueLeft: blueLeft28, blueRight: blueRight28, labels: labels28, labelFont: '6.8px "Liberation Sans"', labelColor: '#222', axisColor: '#888', axisWidth: 2.5});

// panel C dot plot
function padjColor(p) {
    const stops = [[0, [232, 20, 28]], [0.01, [224, 20, 60]], [0.02, [192, 20, 130]], [0.03, [110, 50, 160]], [0.04, [55, 70, 160]]];
    for (let i = 1; i < stops.length; i++) {
        if (p <= stops[i][0]) {
            const a = stops[i - 1], b = stops[i], t = (p - a[0]) / (b[0] - a[0]);
            return 'rgb(' + a[1].map((v, k) => Math.round(v + (b[1][k] - v) * t)).join(',') + ')';
        }
    }
    return 'rgb(55,70,160)';
}
function countRadius(n) {
    return n >= 4 ? 4.7 : n >= 3 ? 3.9 : 2.2;
}
const isMajorX = v => Math.abs(v * 100 - Math.round(v * 100)) < 1e-6;

const elC = document.createElement('canvas');
elC.width = 364;
elC.height = 180;
elC.style.left = '0px';
elC.style.top = '530px';
document.body.appendChild(elC);
new Chart(elC, {
    type: 'scatter',
    data: {datasets: [{
        data: geneRatio.map((g, i) => ({x: g, y: i})),
        backgroundColor: goPadj.map(padjColor),
        borderWidth: 0,
        pointRadius: goCount.map(countRadius)
    }]},
    options: {
        responsive: false,
        animation: false,
        layout: {padding: {top: 2, right: 2}},
        plugins: {legend: {display: false}, tooltip: {enabled: false}},
        scales: {
            x: {
                type: 'linear', min: 0.04134, max: 0.08906,
                afterFit: s => { s.height = 18; },
                border: {color: '#aaa', width: 1},
                grid: {color: c => (isMajorX(c.tick.value) ? '#efefef' : '#f7f7f7'), tickColor: c => (isMajorX(c.tick.value) ? '#999' : 'rgba(0,0,0,0)'), tickLength: 2},
                title: {display: true, text: 'GeneRatio', color: '#444', font: {family: '"Liberation Sans"', size: 6.5}, padding: 0},
                ticks: {stepSize: 0.005, autoSkip: false, maxRotation: 0, includeBounds: false, padding: 1, color: '#555', font: {family: '"Liberation Sans"', size: 6.5},
                    callback: v => (isMajorX(v) ? v.toFixed(2) : '')}
            },
            y: {
                type: 'linear', reverse: true, min: -0.595, max: 9.557,
                afterFit: s => { s.width = 125; },
                border: {color: '#aaa', width: 1},
                grid: {color: '#f0f0f0', tickColor: '#888', tickLength: 2},
                ticks: {stepSize: 1, autoSkip: false, includeBounds: false, padding: 1, color: '#555', font: {family: '"Liberation Sans"', size: 6.6},
                    callback: v => goTerms[v]}
            }
        }
    }
});
const frame = document.createElement('div');
frame.style.cssText = 'position:absolute;left:125px;top:532px;width:236px;height:160px;border:1px solid #aaa;';
document.body.appendChild(frame);

// Count and p.adjust keys
addText('small', 'Count', 371, 552, 'font-size:6.5px;');
const countY = [562.3, 572, 581.3, 592, 603.7];
const countR = [2, 3.3, 3.7, 4.2, 4.7];
countLegend.forEach((c, i) => {
    const d = document.createElement('div');
    d.className = 'dot';
    d.style.cssText = 'left:376.7px;top:' + countY[i] + 'px;width:' + 2 * countR[i] + 'px;height:' + 2 * countR[i] + 'px;background:#1a1a1a;';
    document.body.appendChild(d);
    addText('small', c.toFixed(1), 386, countY[i]);
});
addText('small', 'p.adjust', 371, 624, 'font-size:6.5px;');
const bar = document.createElement('div');
bar.style.cssText = 'position:absolute;left:371px;top:630px;width:9.5px;height:46px;background:linear-gradient(#e8141c,#e0143c 22%,#c01482 50%,#6e32a0 75%,#37469f);';
document.body.appendChild(bar);
const padjY = [642, 654.7, 667];
padjLegend.forEach((v, i) => addText('small', v.toFixed(2), 383, padjY[i]));

// headings
addText('letter', 'A', 2, 15);
addText('letter', 'B', 393, 18);
addText('letter', 'C', 5, 494);
addText('title', 'No injury: Nox4<sup>-/-</sup> vs WT', 186, 13);
addText('title', 'Day 7: Nox4<sup>-/-</sup> vs WT', 600, 15);
addText('title', 'Day 14: Nox4<sup>-/-</sup> vs WT', 600, 240);
addText('title', 'Day 21: Nox4<sup>-/-</sup> vs WT', 600, 477);
addText('title', 'Day 28: Nox4<sup>-/-</sup> vs WT', 600, 715);
addText('title', 'Nox4<sup> -/- </sup>D28 vs WT D28', 227, 516);
addText('fdr', 'FDR', 346, 128);
addText('fdr', 'FDR', 757, 63);
addText('fdr', 'FDR', 759, 295);
addText('fdr', 'FDR', 754, 542);
addText('fdr', 'FDR', 759, 844);
addText('t', '- Log<sub style="font-size:11px">10</sub> P', 403, 475, 'font-weight:bold;font-size:17px;transform:translate(-50%,-50%) rotate(-90deg);');
addText('t', 'Log<sub style="font-size:11px">2</sub> fold change', 618.5, 1039, 'font-weight:bold;font-size:17px;transform:translate(-50%,-50%);');

// colour key box
const box = document.createElement('div');
box.style.cssText = 'position:absolute;left:140px;top:335px;width:112px;height:107px;border:2px solid #222;';
document.body.appendChild(box);
const keyColors = ['#a9a9a9', '#9cc794', '#aebde4', '#f28080'];
const keyY = [353, 372.6, 391.7, 411];
keyColors.forEach((k, i) => {
    const d = document.createElement('div');
    d.className = 'dot';
    d.style.cssText = 'left:155.5px;top:' + keyY[i] + 'px;width:12px;height:12px;background:' + k + ';';
    document.body.appendChild(d);
});
addText('leg', 'ns', 168, 349);
addText('leg', 'Log2 FC', 168.5, 369);
addText('leg', 'P-value', 170.5, 389.5);
addText('leg', 'P-value &amp;', 170.5, 413.5);
addText('leg', 'Log2 FC', 170.5, 428);
</script>
</body>
</html>
